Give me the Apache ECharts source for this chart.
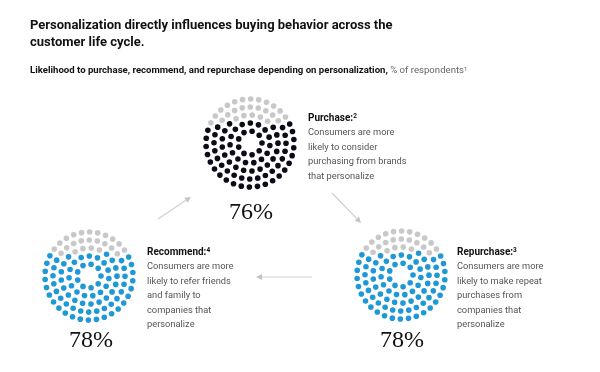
<!DOCTYPE html>
<html><head><meta charset="utf-8">
<script src="https://cdn.jsdelivr.net/npm/echarts@6/dist/echarts.min.js"></script>
<style>html,body{margin:0;padding:0;background:#fff}#c{width:600px;height:372px}</style>
</head><body><div id="c"></div>
<script>
// ---- data ----
const titleLines = ['Personalization directly influences buying behavior across the', 'customer life cycle.'];
const subtitleBold = 'Likelihood to purchase, recommend, and repurchase depending on personalization,';
const subtitleUnit = ' % of respondents';
const stages = ['Purchase', 'Recommend', 'Repurchase'];
const shares = [76, 78, 78];
const footnoteMarks = ['2', '4', '3'];
const descriptions = [
  ['Consumers are more', 'likely to consider', 'purchasing from brands', 'that personalize'],
  ['Consumers are more', 'likely to refer friends', 'and family to', 'companies that', 'personalize'],
  ['Consumers are more', 'likely to make repeat', 'purchases from', 'companies that', 'personalize']
];

// ---- layout / style ----
const SANS = 'Roboto, "Liberation Sans", Arial, sans-serif';
const SERIF = '"Liberation Serif", "DejaVu Serif", serif';
const layout = [
  {cx: 250, cy: 143, tx: 308, ty: 118, px: 251, py: 213, color: '#0b0b1a'},
  {cx: 89,  cy: 276, tx: 147, ty: 252, px: 91,  py: 341, color: '#1f98d6'},
  {cx: 401, cy: 275, tx: 457, ty: 252, px: 402, py: 341, color: '#1f98d6'}
];
const GREY = '#c8c8c8';
const RMAX = 46;
const ringRadii = [12, 20, 28, 36, 44];
const dotGap = 8.2;

function buildDots(share, color) {
  const pts = [];
  ringRadii.forEach((r, k) => {
    const n = Math.round(2 * Math.PI * r / dotGap);
    const off = k * 17;
    for (let j = 0; j < n; j++) {
      const a = (off + j * 360 / n) % 360;
      pts.push({r, a, y: r * Math.sin(a * Math.PI / 180)});
    }
  });
  const nGrey = Math.round(pts.length * (100 - share) / 100);
  const order = pts.slice().sort((p, q) => q.y - p.y);
  const greySet = new Set(order.slice(0, nGrey));
  return pts.map(p => ({value: [p.r, p.a], itemStyle: {color: greySet.has(p) ? GREY : color}}));
}

const chart = echarts.init(document.getElementById('c'), null, {renderer: 'canvas'});

const polar = [], radiusAxis = [], angleAxis = [], series = [];
layout.forEach((L, i) => {
  polar.push({center: [L.cx, L.cy], radius: RMAX});
  radiusAxis.push({polarIndex: i, type: 'value', min: 0, max: RMAX, axisLine: {show: false}, axisTick: {show: false}, axisLabel: {show: false}, splitLine: {show: false}});
  angleAxis.push({polarIndex: i, type: 'value', min: 0, max: 360, startAngle: 0, clockwise: false, axisLine: {show: false}, axisTick: {show: false}, axisLabel: {show: false}, splitLine: {show: false}});
  series.push({type: 'scatter', coordinateSystem: 'polar', polarIndex: i, symbol: 'circle', symbolSize: 5.6, silent: true,
    itemStyle: {opacity: 1}, data: buildDots(shares[i], L.color)});
});

const graphic = [];
function txt(x, y, text, font, fill) {
  graphic.push({type: 'text', style: {x, y, text, font, fill, textAlign: 'left', textVerticalAlign: 'middle', align: 'left', verticalAlign: 'middle'}});
}
// title
txt(30, 26, titleLines[0], 'bold 13px ' + SANS, '#111');
txt(30, 43, titleLines[1], 'bold 13px ' + SANS, '#111');
// subtitle
graphic.push({type: 'text', style: {x: 30, y: 71, verticalAlign: 'middle', textVerticalAlign: 'middle',
  text: '{b|' + subtitleBold + '}{g|' + subtitleUnit + '}{s|1}',
  rich: {
    b: {font: 'bold 9.6px ' + SANS, fill: '#111', color: '#111'},
    g: {font: '9.6px ' + SANS, fill: '#666', color: '#666'},
    s: {font: '6px ' + SANS, fill: '#666', color: '#666', verticalAlign: 'top'}
  }}});

// descriptions & percentages
layout.forEach((L, i) => {
  graphic.push({type: 'text', style: {x: L.tx, y: L.ty, verticalAlign: 'middle', textVerticalAlign: 'middle',
    text: '{h|' + stages[i] + ':}{s|' + footnoteMarks[i] + '}',
    rich: {
      h: {font: 'bold 10px ' + SANS, fill: '#111', color: '#111'},
      s: {font: 'bold 6.5px ' + SANS, fill: '#111', color: '#111', verticalAlign: 'top'}
    }}});
  descriptions[i].forEach((line, k) => {
    txt(L.tx, L.ty + 15 + k * 14.5, line, '9.3px ' + SANS, '#555');
  });
  graphic.push({type: 'text', style: {x: L.px, y: L.py, text: shares[i] + '%', font: '24px ' + SERIF, fill: '#111',
    textAlign: 'center', align: 'center', textVerticalAlign: 'middle', verticalAlign: 'middle'}});
});

// arrows
function arrow(x1, y1, x2, y2) {
  const ang = Math.atan2(y2 - y1, x2 - x1);
  const len = 6, w = 3;
  const bx = x2 - len * Math.cos(ang), by = y2 - len * Math.sin(ang);
  const nx = -Math.sin(ang), ny = Math.cos(ang);
  graphic.push({type: 'line', shape: {x1, y1, x2: bx, y2: by}, style: {stroke: '#cfcfcf', lineWidth: 1.2}});
  graphic.push({type: 'polygon', shape: {points: [[x2, y2], [bx + nx * w, by + ny * w], [bx - nx * w, by - ny * w]]}, style: {fill: '#c4c4c4'}});
}
arrow(158, 219, 191, 197);
arrow(332, 193, 361, 223);
arrow(312, 277, 256, 277);

chart.setOption({
  animation: false,
  backgroundColor: '#fff',
  polar, radiusAxis, angleAxis, series, graphic
});
</script></body></html>
